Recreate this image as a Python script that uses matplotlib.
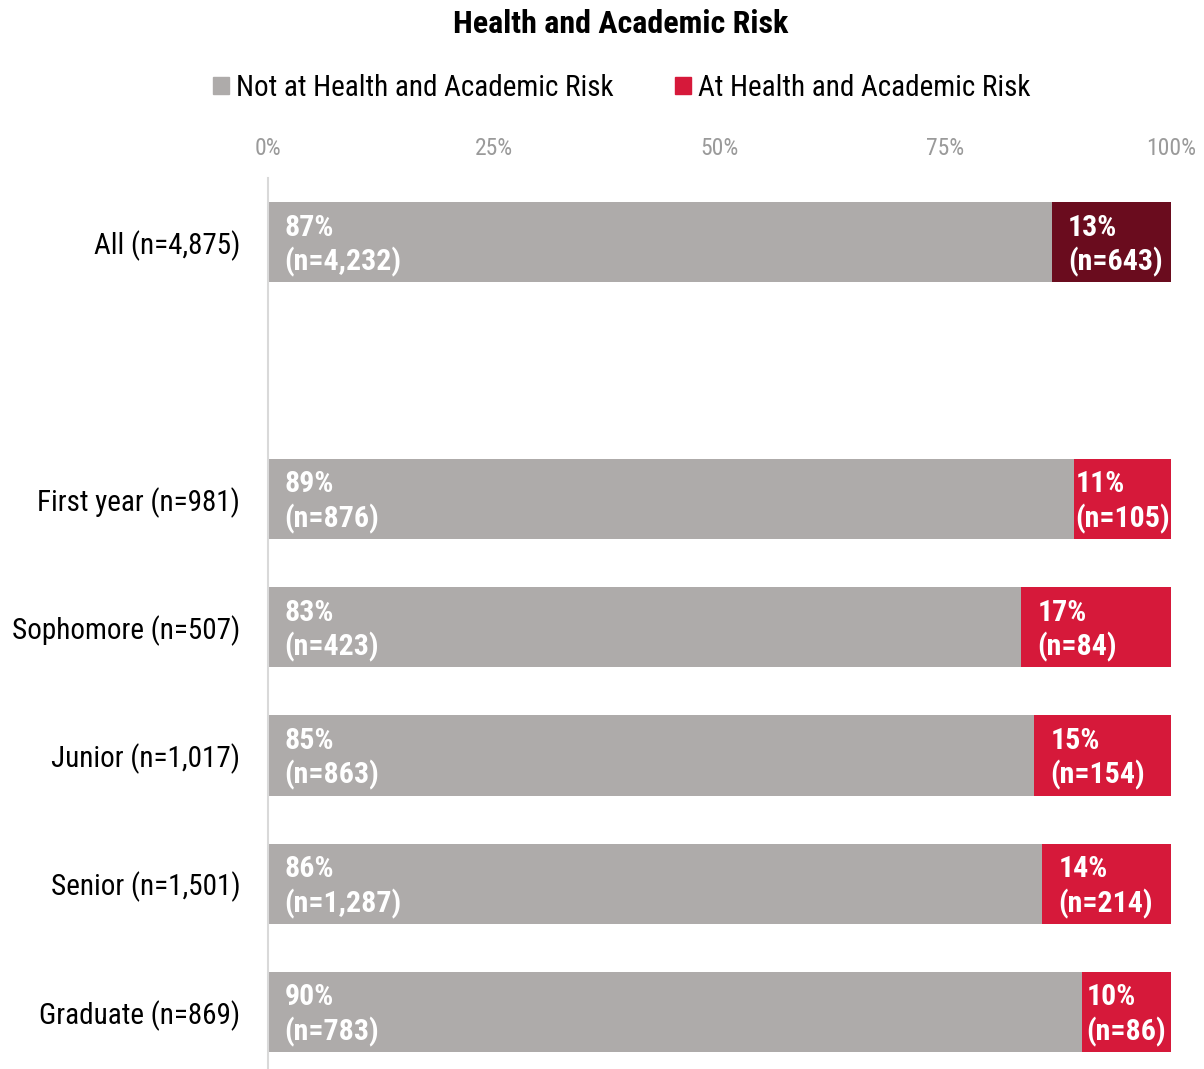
import numpy as np
import matplotlib
matplotlib.use('Agg')
import matplotlib.pyplot as plt
from matplotlib.patches import Patch

plt.rcParams['font.family'] = ['Roboto Condensed', 'Roboto', 'DejaVu Sans']

# Data
groups = ['All (n=4,875)', 'First year (n=981)', 'Sophomore (n=507)',
          'Junior (n=1,017)', 'Senior (n=1,501)', 'Graduate (n=869)']
not_risk = [4232, 876, 423, 863, 1287, 783]
at_risk = [643, 105, 84, 154, 214, 86]
not_pct = [87, 89, 83, 85, 86, 90]
at_pct = [13, 11, 17, 15, 14, 10]

GREY = '#aeabaa'
RED = '#d6193a'
DARK_RED = '#6a0c1e'

# "All" sits apart from the class-year rows
ypos = np.array([0, 2, 3, 4, 5, 6])

totals = np.array(not_risk) + np.array(at_risk)
left_share = np.array(not_risk) / totals * 100
right_share = np.array(at_risk) / totals * 100

fig = plt.figure(figsize=(12.04, 10.69), dpi=100)
ax = fig.add_axes([268 / 1204, 0, 903 / 1204, 1 - 178 / 1069])

red_colors = [DARK_RED] + [RED] * 5
ax.barh(ypos, left_share, height=0.625, color=GREY)
ax.barh(ypos, right_share, left=left_share, height=0.625, color=red_colors)

ax.set_xlim(0, 100)
ax.set_ylim(6.444, -0.5)
ax.set_yticks(ypos)
ax.set_yticklabels(groups, fontsize=21)
ax.tick_params(axis='y', length=0, pad=20)
ax.xaxis.tick_top()
ax.set_xticks([0, 25, 50, 75, 100])
ax.set_xticklabels(['0%', '25%', '50%', '75%', '100%'], fontsize=17, color='#9a9a9a')
ax.tick_params(axis='x', length=0, pad=13)

for s in ['top', 'right', 'bottom']:
    ax.spines[s].set_visible(False)
ax.spines['left'].set_color('#d9d9d9')
ax.spines['left'].set_linewidth(1.5)

# Segment labels: padded from the left edge, centred when the segment is narrow
PAD = 1.8
label_kw = dict(color='white', fontsize=21.5, fontweight='bold', va='center',
                ha='left', linespacing=1.23)
fig.canvas.draw()
renderer = fig.canvas.get_renderer()
px_per_unit = ax.bbox.width / 100
for i, y in enumerate(ypos):
    ax.text(PAD, y + 0.025, f'{not_pct[i]}%\n(n={not_risk[i]:,})', **label_kw)
    t = ax.text(left_share[i], y + 0.025, f'{at_pct[i]}%\n(n={at_risk[i]:,})', **label_kw)
    tw = t.get_window_extent(renderer).width / px_per_unit
    room = right_share[i] - tw
    pad = PAD if room >= 2.6 else max(0, room / 2)
    t.set_x(left_share[i] + pad)

fig.text(0.5155, 1 - 24 / 1069, 'Health and Academic Risk', ha='center', va='center',
         fontsize=23, fontweight='bold')

handles = [Patch(color=GREY, label='Not at Health and Academic Risk'),
           Patch(color=RED, label='At Health and Academic Risk')]
fig.legend(handles=handles, loc='center', bbox_to_anchor=(0.5165, 1 - 88 / 1069), ncol=2,
           frameon=False, fontsize=21, handlelength=0.55, handleheight=0.55,
           handletextpad=0.25, columnspacing=2.1)

fig.savefig('out.png', dpi=100)
